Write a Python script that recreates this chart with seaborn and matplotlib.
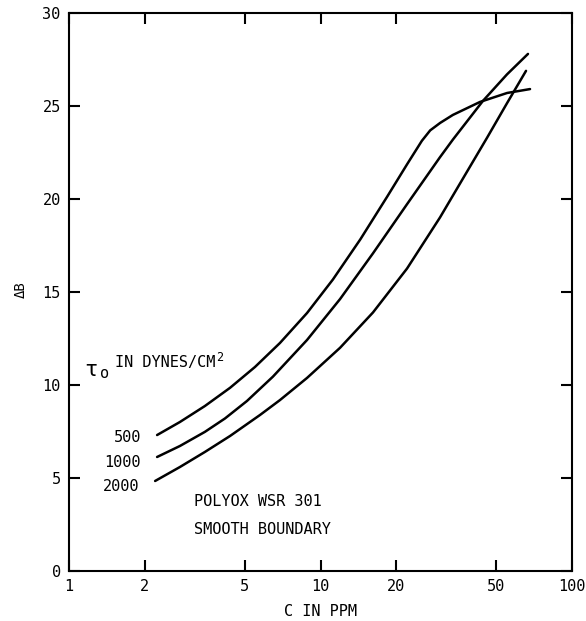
import numpy as np
import pandas as pd
import matplotlib
matplotlib.use("Agg")
import matplotlib.pyplot as plt
from matplotlib.ticker import NullLocator
import seaborn as sns

# Velocity-profile shift (Delta B) versus polymer concentration, Polyox WSR 301
stress_levels = ["500", "1000", "2000"]

conc_500 = [2.24, 2.76, 3.47, 4.37, 5.49, 6.90, 8.84, 11.2, 14.4, 18.4,
            22.1, 25.3, 27.3, 29.9, 33.6, 43.1, 55.2, 68.1]
dB_500 = [7.31, 8.01, 8.87, 9.85, 10.97, 12.26, 13.87, 15.67, 17.83, 20.12,
          21.87, 23.13, 23.69, 24.09, 24.52, 25.22, 25.70, 25.91]

conc_1000 = [2.24, 2.76, 3.47, 4.17, 5.10, 6.47, 8.84, 11.96, 16.17, 22.08,
             29.87, 33.63, 44.28, 55.15, 66.83]
dB_1000 = [6.13, 6.72, 7.48, 8.20, 9.14, 10.45, 12.42, 14.62, 17.08, 19.72,
           22.25, 23.20, 25.28, 26.70, 27.80]

conc_2000 = [2.20, 2.76, 3.47, 4.37, 5.75, 6.90, 8.84, 11.96, 16.17, 22.08,
             29.87, 35.86, 45.93, 55.15, 65.64]
dB_2000 = [4.84, 5.59, 6.40, 7.26, 8.39, 9.19, 10.38, 12.00, 13.90, 16.26,
           19.01, 20.83, 23.29, 25.15, 26.89]

x_ticks = [1, 2, 5, 10, 20, 50, 100]
x_tick_labels = ["1", "2", "5", "10", "20", "50", "100"]
y_ticks = [0, 5, 10, 15, 20, 25, 30]

frames = []
for lvl, c, b in zip(stress_levels,
                     [conc_500, conc_1000, conc_2000],
                     [dB_500, dB_1000, dB_2000]):
    frames.append(pd.DataFrame({"C": c, "dB": b, "tau": lvl}))
df = pd.concat(frames, ignore_index=True)

sns.set_theme(style="ticks")
plt.rcParams["font.family"] = ["DejaVu Sans Mono", "DejaVu Sans"]
plt.rcParams["text.color"] = "black"
plt.rcParams["axes.labelcolor"] = "black"

fig = plt.figure(figsize=(5.86, 6.21), dpi=100)
ax = fig.add_axes([69 / 586, 50 / 621, 503 / 586, 558 / 621])

sns.lineplot(data=df, x="C", y="dB", hue="tau", hue_order=stress_levels,
             palette={k: "black" for k in stress_levels}, linewidth=1.8,
             legend=False, ax=ax, estimator=None)

ax.set_xscale("log")
ax.set_xlim(1, 100)
ax.set_ylim(0, 30)
ax.set_xticks(x_ticks)
ax.set_xticklabels(x_tick_labels)
ax.xaxis.set_minor_locator(NullLocator())
ax.set_yticks(y_ticks)
ax.set_yticklabels([str(v) for v in y_ticks])

ax.tick_params(axis="both", which="major", direction="in", length=8,
               width=1.5, labelsize=11, colors="black", pad=6,
               top=True, right=True)
for sp in ax.spines.values():
    sp.set_linewidth(1.5)
    sp.set_color("black")

ax.set_xlabel("C IN PPM", fontsize=11, labelpad=7, color="black")
ax.set_ylabel("ΔB", fontsize=10, color="black")
ax.yaxis.set_label_coords(-0.082, 0.504)

# curve labels at the left end of each curve
starts = {"500": (conc_500[0], dB_500[0]),
          "1000": (conc_1000[0], dB_1000[0]),
          "2000": (conc_2000[0], dB_2000[0])}
drops = {"500": -2, "1000": -6, "2000": -6}
for lvl in stress_levels:
    ax.annotate(lvl, xy=starts[lvl], xytext=(-16, drops[lvl]),
                textcoords="offset pixels", ha="right", va="center",
                fontsize=11, color="black")

# shear stress legend line
ax.text(0.031, 0.349, "τ", transform=ax.transAxes, fontsize=16,
        va="baseline", ha="left", color="black")
ax.text(0.061, 0.345, "o", transform=ax.transAxes, fontsize=11,
        va="baseline", ha="left", color="black")
ax.text(0.0915, 0.366, "IN DYNES/CM", transform=ax.transAxes, fontsize=11,
        va="baseline", ha="left", color="black")
ax.text(0.293, 0.376, "2", transform=ax.transAxes, fontsize=8.5,
        va="baseline", ha="left", color="black")

ax.text(0.2485, 0.124, "POLYOX WSR 301", transform=ax.transAxes,
        fontsize=11, va="center", ha="left", color="black")
ax.text(0.2485, 0.0735, "SMOOTH BOUNDARY", transform=ax.transAxes,
        fontsize=11, va="center", ha="left", color="black")

fig.savefig("out.png", dpi=100, facecolor="white")
